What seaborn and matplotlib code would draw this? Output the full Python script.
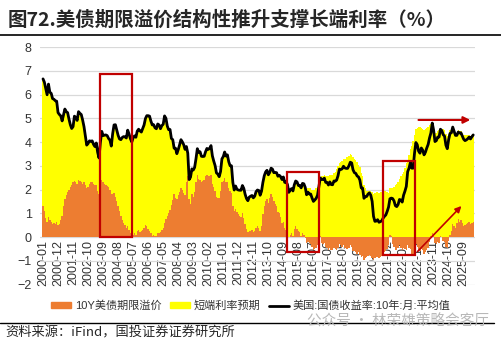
import numpy as np
import pandas as pd
import matplotlib
matplotlib.use("Agg")
import matplotlib.pyplot as plt
import seaborn as sns
from matplotlib.patches import Rectangle
from matplotlib.lines import Line2D

# 月度数据：2000-01 ~ 2026-04
months = pd.period_range("2000-01", "2026-04", freq="M")

# 美国:国债收益率:10年:月:平均值
yield_10y = [
    6.66, 6.52, 6.26, 5.99, 6.44, 6.10, 6.05, 5.83, 5.80, 5.74, 5.72, 5.24,
    5.16, 5.10, 4.89, 5.14, 5.39, 5.28, 5.24, 4.97, 4.73, 4.57, 4.65, 5.09,
    5.04, 4.91, 5.28, 5.21, 5.16, 4.93, 4.65, 4.26, 3.87, 3.94, 4.05, 4.03,
    4.05, 3.90, 3.81, 3.96, 3.57, 3.33, 3.98, 4.45, 4.27, 4.29, 4.30, 4.27,
    4.15, 4.08, 3.83, 4.35, 4.72, 4.73, 4.50, 4.28, 4.13, 4.10, 4.19, 4.23,
    4.22, 4.17, 4.50, 4.34, 4.14, 4.00, 4.18, 4.26, 4.20, 4.46, 4.54, 4.47,
    4.42, 4.57, 4.72, 4.99, 5.11, 5.11, 5.09, 4.88, 4.72, 4.73, 4.60, 4.56,
    4.76, 4.72, 4.56, 4.69, 4.75, 5.10, 5.00, 4.67, 4.52, 4.53, 4.15, 4.10,
    3.74, 3.74, 3.51, 3.68, 3.88, 4.10, 4.01, 3.89, 3.69, 3.81, 3.53, 2.42,
    2.52, 2.87, 2.82, 2.93, 3.29, 3.72, 3.56, 3.59, 3.40, 3.39, 3.40, 3.59,
    3.73, 3.69, 3.73, 3.85, 3.42, 3.20, 3.01, 2.70, 2.65, 2.54, 2.76, 3.29,
    3.39, 3.58, 3.41, 3.46, 3.17, 3.00, 3.00, 2.30, 1.98, 2.15, 2.01, 1.98,
    1.97, 1.97, 2.17, 2.05, 1.80, 1.62, 1.53, 1.68, 1.72, 1.75, 1.65, 1.72,
    1.91, 1.98, 1.96, 1.76, 1.93, 2.30, 2.58, 2.74, 2.81, 2.62, 2.72, 2.90,
    2.86, 2.71, 2.72, 2.71, 2.56, 2.60, 2.54, 2.42, 2.53, 2.30, 2.33, 2.21,
    1.88, 1.98, 2.04, 1.94, 2.20, 2.36, 2.32, 2.17, 2.17, 2.07, 2.26, 2.24,
    2.09, 1.78, 1.89, 1.81, 1.81, 1.64, 1.50, 1.56, 1.63, 1.76, 2.14, 2.49,
    2.43, 2.42, 2.48, 2.30, 2.30, 2.19, 2.32, 2.21, 2.20, 2.36, 2.35, 2.40,
    2.58, 2.86, 2.84, 2.87, 2.98, 2.91, 2.89, 2.89, 3.00, 3.15, 3.12, 2.83,
    2.71, 2.68, 2.57, 2.53, 2.40, 2.07, 2.06, 1.63, 1.70, 1.71, 1.81, 1.86,
    1.76, 1.50, 0.87, 0.66, 0.67, 0.73, 0.62, 0.65, 0.68, 0.79, 0.87, 0.93,
    1.08, 1.26, 1.61, 1.64, 1.62, 1.52, 1.32, 1.28, 1.37, 1.58, 1.56, 1.47,
    1.76, 1.93, 2.13, 2.75, 2.90, 3.14, 2.90, 2.90, 3.52, 3.98, 3.89, 3.62,
    3.53, 3.75, 3.66, 3.46, 3.57, 3.75, 3.90, 4.17, 4.38, 4.80, 4.50, 4.02,
    4.06, 4.21, 4.21, 4.54, 4.48, 4.31, 4.25, 3.87, 3.72, 4.10, 4.36, 4.39,
    4.63, 4.45, 4.28, 4.28, 4.42, 4.38, 4.39, 4.26, 4.12, 4.06, 4.09, 4.14,
    4.21, 4.13, 4.22, 4.30,
]

# 10Y美债期限溢价
term_premium = [
    1.30, 1.10, 0.80, 0.65, 0.85, 0.70, 0.65, 0.55, 0.60, 0.55, 0.65, 0.50,
    0.55, 0.70, 0.90, 1.30, 1.60, 1.75, 1.90, 2.00, 2.10, 2.20, 2.30, 2.35,
    2.30, 2.25, 2.40, 2.35, 2.30, 2.25, 2.30, 2.20, 2.05, 2.10, 2.25, 2.30,
    2.30, 2.25, 2.20, 2.20, 1.95, 1.80, 2.10, 2.40, 2.30, 2.25, 2.20, 2.15,
    2.10, 2.00, 1.80, 1.80, 1.85, 1.70, 1.50, 1.30, 1.10, 0.90, 0.70, 0.60,
    0.50, 0.40, 0.45, 0.30, 0.15, 0.05, 0.10, 0.15, 0.10, 0.25, 0.30, 0.20,
    0.25, 0.30, 0.40, 0.50, 0.45, 0.35, 0.25, 0.15, 0.05, 0.10, 0.05, 0.05,
    0.15, 0.15, 0.20, 0.30, 0.40, 0.60, 0.75, 0.90, 1.00, 1.15, 1.35, 1.55,
    1.80, 1.65, 1.60, 1.75, 1.90, 2.05, 2.00, 1.85, 1.75, 2.30, 2.55, 1.60,
    1.40, 1.80, 1.70, 1.90, 2.30, 2.60, 2.45, 2.40, 2.30, 2.35, 2.40, 2.55,
    2.60, 2.55, 2.55, 2.60, 2.25, 2.10, 1.95, 1.70, 1.65, 1.65, 1.95, 2.30,
    2.35, 2.50, 2.30, 2.30, 2.05, 1.95, 1.85, 1.30, 1.10, 1.20, 1.05, 0.95,
    0.90, 0.85, 1.00, 0.80, 0.55, 0.35, 0.20, 0.25, 0.25, 0.30, 0.20, 0.25,
    0.40, 0.45, 0.40, 0.25, 0.45, 0.95, 1.30, 1.50, 1.60, 1.45, 1.65, 1.80,
    1.70, 1.50, 1.40, 1.30, 1.05, 1.00, 0.85, 0.60, 0.65, 0.40, 0.30, 0.15,
    0.00, 0.10, 0.15, 0.05, 0.35, 0.45, 0.35, 0.25, 0.20, 0.05, 0.15, 0.10,
    -0.05, -0.25, -0.20, -0.25, -0.30, -0.40, -0.55, -0.50, -0.45, -0.35, -0.10, 0.05,
    -0.25, -0.30, -0.25, -0.40, -0.45, -0.55, -0.45, -0.55, -0.55, -0.45, -0.50, -0.55,
    -0.45, -0.30, -0.35, -0.40, -0.35, -0.45, -0.50, -0.50, -0.45, -0.35, -0.40, -0.60,
    -0.60, -0.65, -0.70, -0.65, -0.75, -0.85, -0.80, -0.95, -0.90, -0.85, -0.80, -0.75,
    -0.80, -0.90, -0.95, -0.90, -0.85, -0.85, -0.90, -0.85, -0.80, -0.70, -0.65, -0.60,
    -0.50, -0.35, 0.10, 0.05, -0.30, -0.40, -0.55, -0.55, -0.45, -0.35, -0.45, -0.55,
    -0.45, -0.50, -0.55, -0.35, -0.45, -0.50, -0.70, -0.75, -0.55, -0.30, -0.40, -0.55,
    -0.60, -0.50, -0.55, -0.70, -0.65, -0.55, -0.45, -0.20, 0.05, 0.15, 0.05, -0.25,
    -0.30, -0.20, -0.25, 0.05, 0.00, -0.15, -0.20, -0.40, -0.45, -0.15, 0.10, 0.25,
    0.55, 0.45, 0.40, 0.60, 0.75, 0.65, 0.70, 0.60, 0.45, 0.50, 0.55, 0.60,
    0.65, 0.55, 0.60, 0.65,
]

# 短端利率预期
rate_expect = [
    5.36, 5.42, 5.46, 5.34, 5.59, 5.40, 5.40, 5.28, 5.20, 5.19, 5.07, 4.74,
    4.61, 4.40, 3.99, 3.84, 3.79, 3.53, 3.34, 2.97, 2.63, 2.37, 2.35, 2.74,
    2.74, 2.66, 2.88, 2.86, 2.86, 2.68, 2.35, 2.06, 1.82, 1.84, 1.80, 1.73,
    1.75, 1.65, 1.61, 1.76, 1.62, 1.53, 1.88, 2.05, 1.97, 2.04, 2.10, 2.12,
    2.05, 2.08, 2.03, 2.55, 2.87, 3.03, 3.00, 2.98, 3.03, 3.20, 3.49, 3.63,
    3.72, 3.77, 4.05, 4.04, 3.99, 3.95, 4.08, 4.11, 4.10, 4.21, 4.24, 4.27,
    4.17, 4.27, 4.32, 4.49, 4.66, 4.76, 4.84, 4.73, 4.67, 4.63, 4.55, 4.51,
    4.61, 4.57, 4.36, 4.39, 4.35, 4.50, 4.25, 3.77, 3.52, 3.38, 2.80, 2.55,
    1.94, 2.09, 1.91, 1.93, 1.98, 2.05, 2.01, 2.04, 1.94, 1.51, 0.98, 0.82,
    1.12, 1.07, 1.12, 1.03, 0.99, 1.12, 1.11, 1.19, 1.10, 1.04, 1.00, 1.04,
    1.13, 1.14, 1.18, 1.25, 1.17, 1.10, 1.06, 1.00, 1.00, 0.89, 0.81, 0.99,
    1.04, 1.08, 1.11, 1.16, 1.12, 1.05, 1.15, 1.00, 0.88, 0.95, 0.96, 1.03,
    1.07, 1.12, 1.17, 1.25, 1.25, 1.27, 1.33, 1.43, 1.47, 1.45, 1.45, 1.47,
    1.51, 1.53, 1.56, 1.51, 1.48, 1.35, 1.28, 1.24, 1.21, 1.17, 1.07, 1.10,
    1.16, 1.21, 1.32, 1.41, 1.51, 1.60, 1.69, 1.82, 1.88, 1.90, 2.03, 2.06,
    1.88, 1.88, 1.89, 1.89, 1.85, 1.91, 1.97, 1.92, 1.97, 2.02, 2.11, 2.14,
    2.10, 2.00, 2.05, 2.05, 2.05, 2.00, 2.00, 2.00, 2.05, 2.10, 2.25, 2.45,
    2.55, 2.55, 2.60, 2.55, 2.55, 2.55, 2.60, 2.60, 2.60, 2.70, 2.75, 2.85,
    3.00, 3.10, 3.15, 3.20, 3.30, 3.30, 3.35, 3.35, 3.40, 3.50, 3.45, 3.35,
    3.30, 3.25, 3.15, 3.05, 2.95, 2.70, 2.55, 2.20, 2.05, 1.95, 1.95, 1.95,
    1.95, 1.90, 1.80, 1.85, 1.90, 1.90, 1.85, 1.90, 1.90, 1.95, 1.95, 1.95,
    1.90, 1.85, 1.95, 2.00, 2.05, 2.10, 2.20, 2.25, 2.30, 2.45, 2.55, 2.65,
    2.75, 2.90, 3.10, 3.25, 3.45, 3.70, 3.85, 4.05, 4.30, 4.55, 4.60, 4.65,
    4.65, 4.60, 4.55, 4.50, 4.55, 4.60, 4.65, 4.70, 4.70, 4.65, 4.55, 4.40,
    4.40, 4.45, 4.50, 4.50, 4.55, 4.55, 4.50, 4.35, 4.25, 4.35, 4.40, 4.30,
    3.90, 3.95, 3.90, 3.80, 3.75, 3.80, 3.75, 3.80, 3.85, 3.80, 3.75, 3.70,
    3.65, 3.70, 3.70, 3.65,
]

tick_labels = [
    "2000-01", "2000-12", "2001-11", "2002-10", "2003-09", "2004-08", "2005-07",
    "2006-06", "2007-05", "2008-04", "2009-03", "2010-02", "2011-01", "2011-12",
    "2012-11", "2013-10", "2014-09", "2015-08", "2016-07", "2017-06", "2018-05",
    "2019-04", "2020-03", "2021-02", "2022-01", "2022-12", "2023-11", "2024-10",
    "2025-09",
]

df = pd.DataFrame({
    "month": months.astype(str),
    "yield_10y": yield_10y,
    "term_premium": term_premium,
    "rate_expect": rate_expect,
})
df["x"] = np.arange(len(df))

sns.set_style("white")
plt.rcParams["font.family"] = ["Liberation Sans", "Noto Sans CJK SC", "DejaVu Sans"]

ORANGE = "#ED7D31"
YELLOW = "#FFFF00"
RED = "#C00000"

fig = plt.figure(figsize=(5.02, 3.46), dpi=100)
ax = fig.add_axes([0.0797, 0.1777, 0.8665, 0.6863])

# 堆积柱：正负分开堆叠
ax.bar(df["x"], df["term_premium"], width=1.0, color=ORANGE, linewidth=0, zorder=2)
ax.bar(df["x"], df["rate_expect"], bottom=df["term_premium"].clip(lower=0),
       width=1.0, color=YELLOW, linewidth=0, zorder=2)
sns.lineplot(data=df, x="x", y="yield_10y", color="black", linewidth=2,
             ax=ax, zorder=4, legend=False)

# 横轴标签贴着 0 线（先移 spine，再设刻度）
ax.spines["bottom"].set_position(("data", 0))
for s in ax.spines.values():
    s.set_visible(False)

ax.set_xlim(-2.2, 316.3)
ax.set_ylim(-2, 8)
ax.set_yticks(range(-2, 9))
ax.set_xticks([df["month"].tolist().index(t) for t in tick_labels])
ax.set_xticklabels(tick_labels, rotation=90, fontsize=9, color="#333333")
ax.tick_params(axis="y", labelsize=9, colors="#333333", length=0, pad=6)
ax.tick_params(axis="x", length=0, pad=2)
ax.yaxis.grid(True, color="#D9D9D9", linewidth=0.9, zorder=0)
ax.set_axisbelow(True)
ax.set_xlabel("")
ax.set_ylabel("")

# 红框
for x0, x1, y0, y1 in [(42.0, 65.4, 0.0, 6.85), (178.5, 202.1, -0.63, 2.75),
                       (249.2, 272.4, -0.76, 3.2)]:
    ax.add_patch(Rectangle((x0, y0), x1 - x0, y1 - y0, fill=False,
                           edgecolor=RED, linewidth=1.6, zorder=6))

# 箭头
ax.annotate("", xy=(314.9, 4.93), xytext=(272.9, 4.93),
            arrowprops=dict(arrowstyle="-|>", color=RED, lw=1.5,
                            mutation_scale=10), zorder=6)
ax.annotate("", xy=(307.8, 1.39), xytext=(272.9, -0.69),
            arrowprops=dict(arrowstyle="-|>", color=RED, lw=1.2,
                            mutation_scale=9), zorder=6)

# 图例
handles = [
    Rectangle((0, 0), 1, 1, color=ORANGE),
    Rectangle((0, 0), 1, 1, color=YELLOW),
    Line2D([0], [0], color="black", linewidth=2),
]
labels = ["10Y美债期限溢价", "短端利率预期", "美国:国债收益率:10年:月:平均值"]
fig.legend(handles, labels, loc="center", bbox_to_anchor=(0.5, 0.116), ncol=3,
           frameon=False, fontsize=8, handlelength=1.8, handleheight=0.5,
           columnspacing=0.8, handletextpad=0.3, labelcolor="#333333")

# 标题与分隔线
fig.text(0.016, 0.942, "图72.美债期限溢价结构性推升支撑长端利率（%）",
         fontsize=14, fontweight="bold", family=["Noto Sans CJK SC"],
         ha="left", va="center")
fig.add_artist(Line2D([0, 1], [0.900, 0.900], color="black", linewidth=1.2))
fig.add_artist(Line2D([0, 0.985], [0.066, 0.066], color="black", linewidth=1.0))
fig.text(0.01, 0.037, "资料来源：iFind，国投证券证券研究所", fontsize=9.5,
         family=["Noto Sans CJK SC"], style="italic", ha="left", va="center")
fig.text(0.975, 0.07, "公众号 · 林荣雄策略会客厅", fontsize=10.5,
         family=["Noto Sans CJK SC"], color="#B8B8B8", ha="right", va="center",
         zorder=10)

fig.savefig("out.png", dpi=100)
